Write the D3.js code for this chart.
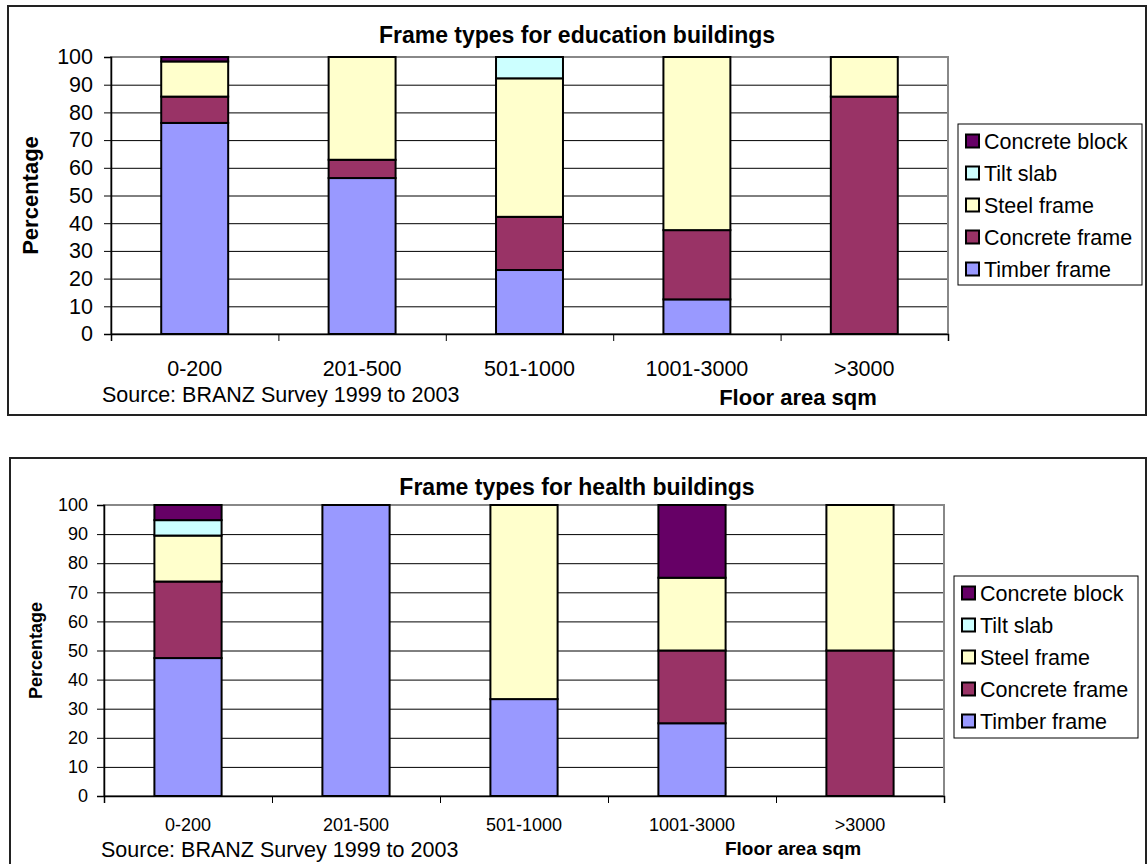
<!DOCTYPE html>
<html>
<head>
<meta charset="utf-8">
<script src="https://cdn.jsdelivr.net/npm/d3@7"></script>
<style>
  html, body { margin: 0; padding: 0; background: #fff; }
  svg { display: block; font-family: "Liberation Sans", Arial, sans-serif; }
</style>
</head>
<body>
<svg id="chart" width="1148" height="864"></svg>
<script>
// Floor area bands (x categories)
const categories = ["0-200", "201-500", "501-1000", "1001-3000", ">3000"];
// Frame types, bottom of the stack first
const seriesNames = ["Timber frame", "Concrete frame", "Steel frame", "Tilt slab", "Concrete block"];
const seriesColors = ["#9999FF", "#993366", "#FFFFCC", "#CCFFFF", "#660066"];
const yTicks = [0, 10, 20, 30, 40, 50, 60, 70, 80, 90, 100];

// Education buildings, percentage of each floor area band
const eduTimber   = [76.2, 56.3, 23.1, 12.5, 0];
const eduConcrete = [9.5, 6.6, 19.2, 25.0, 85.7];
const eduSteel    = [12.7, 37.1, 50.0, 62.5, 14.3];
const eduTilt     = [0, 0, 7.7, 0, 0];
const eduBlock    = [1.6, 0, 0, 0, 0];

// Health buildings, percentage of each floor area band
const hlthTimber   = [47.4, 100, 33.3, 25, 0];
const hlthConcrete = [26.3, 0, 0, 25, 50];
const hlthSteel    = [15.8, 0, 66.7, 25, 50];
const hlthTilt     = [5.3, 0, 0, 0, 0];
const hlthBlock    = [5.2, 0, 0, 25, 0];

const titles = ["Frame types for education buildings", "Frame types for health buildings"];
const yTitle = "Percentage";
const xTitle = "Floor area sqm";
const sourceNote = "Source: BRANZ Survey 1999 to 2003";

function buildRows(cols) {
  return categories.map((c, i) => {
    const row = { category: c };
    seriesNames.forEach((s, k) => { row[s] = cols[k][i]; });
    return row;
  });
}

const svg = d3.select("#chart");

function drawChart(rows, title, L) {
  const g = svg.append("g");

  // outer frame
  g.append("rect")
    .attr("x", L.outer[0]).attr("y", L.outer[1])
    .attr("width", L.outer[2] - L.outer[0]).attr("height", L.outer[3] - L.outer[1])
    .attr("fill", "#fff").attr("stroke", "#222").attr("stroke-width", 2);

  const [px0, py0, px1, py1] = L.plot;
  const x = d3.scaleBand().domain(categories).range([px0, px1])
    .paddingInner(0.6).paddingOuter(0.3);
  const y = d3.scaleLinear().domain([0, 100]).range([py1, py0]);
  const xEdge = d3.scaleLinear().domain([0, categories.length]).range([px0, px1]);

  // gridlines
  g.append("g")
    .attr("transform", `translate(${px0},0)`)
    .call(d3.axisLeft(y).tickValues(yTicks).tickSize(-(px1 - px0)).tickFormat(""))
    .call(a => a.select(".domain").remove())
    .call(a => a.selectAll("line").attr("stroke", "#000").attr("stroke-width", 1));

  // plot area border
  g.append("rect")
    .attr("x", px0).attr("y", py0).attr("width", px1 - px0).attr("height", py1 - py0)
    .attr("fill", "none").attr("stroke", "#888").attr("stroke-width", 2);

  // stacked bars
  const stack = d3.stack().keys(seriesNames)(rows);
  g.append("g").selectAll("g")
    .data(stack)
    .join("g")
    .attr("fill", (d, i) => seriesColors[i])
    .selectAll("rect")
    .data(d => d.filter(s => s[1] - s[0] > 0))
    .join("rect")
    .attr("x", d => x(d.data.category))
    .attr("width", x.bandwidth())
    .attr("y", d => y(d[1]))
    .attr("height", d => y(d[0]) - y(d[1]))
    .attr("stroke", "#000").attr("stroke-width", 2);

  // y axis
  g.append("g")
    .attr("transform", `translate(${px0},0)`)
    .call(d3.axisLeft(y).tickValues(yTicks).tickSize(7).tickPadding(L.yPad))
    .call(a => a.select(".domain").attr("stroke", "#000").attr("stroke-width", 1.5))
    .call(a => a.selectAll("line").attr("stroke", "#000"))
    .call(a => a.selectAll("text").attr("font-size", L.tickFont).attr("fill", "#000")
      .attr("font-family", "Liberation Sans, Arial, sans-serif"));

  // x axis with ticks on category boundaries
  g.append("g")
    .attr("transform", `translate(0,${py1})`)
    .call(d3.axisBottom(xEdge).ticks(categories.length).tickSize(7).tickFormat(""))
    .call(a => a.select(".domain").attr("stroke", "#000").attr("stroke-width", 1.5))
    .call(a => a.selectAll("line").attr("stroke", "#000"));

  // category labels
  g.append("g").selectAll("text")
    .data(categories)
    .join("text")
    .attr("x", d => x(d) + x.bandwidth() / 2)
    .attr("y", L.catY)
    .attr("dy", "0.35em")
    .attr("text-anchor", "middle")
    .attr("font-size", L.catFont)
    .text(d => d);

  // title
  g.append("text")
    .attr("x", L.titleX).attr("y", L.titleY).attr("dy", "0.35em")
    .attr("text-anchor", "middle").attr("font-weight", "bold")
    .attr("font-size", L.titleFont).text(title);

  // axis titles
  g.append("text")
    .attr("transform", `translate(${L.yTitleX},${(py0 + py1) / 2}) rotate(-90)`)
    .attr("dy", "0.35em").attr("text-anchor", "middle").attr("font-weight", "bold")
    .attr("font-size", L.yTitleFont).text(yTitle);

  g.append("text")
    .attr("x", L.xTitleX).attr("y", L.xTitleY).attr("dy", "0.35em")
    .attr("text-anchor", "middle").attr("font-weight", "bold")
    .attr("font-size", L.xTitleFont).text(xTitle);

  // source note
  g.append("text")
    .attr("x", L.sourceX).attr("y", L.sourceY).attr("dy", "0.35em")
    .attr("font-size", L.sourceFont).text(sourceNote);

  // legend (top entry is the top of the stack)
  const [lx0, ly0, lx1, ly1] = L.legend;
  const lg = g.append("g");
  lg.append("rect")
    .attr("x", lx0).attr("y", ly0).attr("width", lx1 - lx0).attr("height", ly1 - ly0)
    .attr("fill", "#fff").attr("stroke", "#000").attr("stroke-width", 1);
  const legendOrder = seriesNames.map((s, i) => i).reverse();
  const item = lg.selectAll("g.item")
    .data(legendOrder)
    .join("g")
    .attr("class", "item")
    .attr("transform", (d, j) => `translate(${lx0 + 8},${L.legendRow0 + j * L.legendStep})`);
  item.append("rect")
    .attr("x", 0).attr("y", -6.5).attr("width", 13).attr("height", 13)
    .attr("fill", d => seriesColors[d]).attr("stroke", "#000").attr("stroke-width", 2);
  item.append("text")
    .attr("x", 18).attr("y", 0).attr("dy", "0.35em")
    .attr("font-size", L.legendFont)
    .text(d => seriesNames[d]);
}

drawChart(
  buildRows([eduTimber, eduConcrete, eduSteel, eduTilt, eduBlock]),
  titles[0],
  {
    outer: [8, 6, 1146, 415], plot: [111, 57, 948, 334],
    tickFont: 21.5, yPad: 11, catFont: 21.5, catY: 368,
    titleX: 577, titleY: 35, titleFont: 23,
    yTitleX: 30, yTitleFont: 22,
    xTitleX: 798, xTitleY: 397, xTitleFont: 22,
    sourceX: 102, sourceY: 394, sourceFont: 21.5,
    legend: [958, 124, 1142, 285], legendRow0: 141, legendStep: 32, legendFont: 21.5
  }
);

drawChart(
  buildRows([hlthTimber, hlthConcrete, hlthSteel, hlthTilt, hlthBlock]),
  titles[1],
  {
    outer: [10, 458, 1146, 868], plot: [104, 505, 944, 796],
    tickFont: 18, yPad: 9, catFont: 18, catY: 825,
    titleX: 577, titleY: 487, titleFont: 23,
    yTitleX: 36, yTitleFont: 18,
    xTitleX: 793, xTitleY: 848, xTitleFont: 19,
    sourceX: 101, sourceY: 849, sourceFont: 21.5,
    legend: [954, 576, 1138, 738], legendRow0: 593, legendStep: 32, legendFont: 21.5
  }
);
</script>
</body>
</html>
